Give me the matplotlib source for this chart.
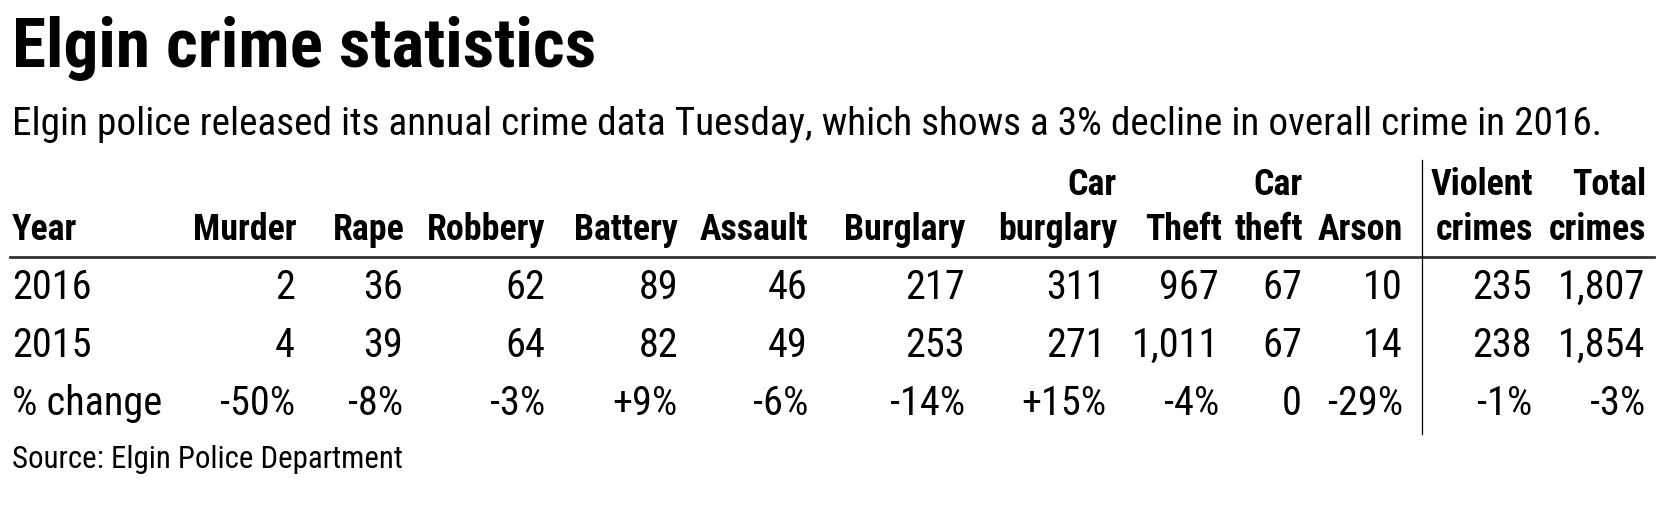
import matplotlib
matplotlib.use("Agg")
import matplotlib.pyplot as plt
from matplotlib import font_manager as fm

# table data
years = ["2016", "2015"]
head_top = ["", "", "", "", "", "", "Car", "", "Car", "", "Violent", "Total"]
head_bot = ["Murder", "Rape", "Robbery", "Battery", "Assault", "Burglary",
            "burglary", "Theft", "theft", "Arson", "crimes", "crimes"]
v2016 = [2, 36, 62, 89, 46, 217, 311, 967, 67, 10, 235, 1807]
v2015 = [4, 39, 64, 82, 49, 253, 271, 1011, 67, 14, 238, 1854]
pct = ["-50%", "-8%", "-3%", "+9%", "-6%", "-14%", "+15%", "-4%", "0", "-29%", "-1%", "-3%"]

title = "Elgin crime statistics"
subtitle = ("Elgin police released its annual crime data Tuesday, "
            "which shows a 3% decline in overall crime in 2016.")
source = "Source: Elgin Police Department"

# layout (pixels from top-left)
W, H = 1661, 519
head_x = [297, 405, 545, 678, 808, 965, 1117, 1222, 1303, 1403, 1533, 1646]
data_x = [295, 403, 545, 678, 808, 965, 1106, 1219, 1302, 1403, 1532, 1645]
row_y = [299, 357, 415]


def pick(names):
    for n in names:
        try:
            fm.findfont(fm.FontProperties(family=n), fallback_to_default=False)
            return n
        except ValueError:
            pass
    return "Liberation Sans"


narrow = pick(["Liberation Sans Narrow", "DejaVu Sans Condensed",
               "Roboto Condensed", "Open Sans Condensed", "Liberation Sans"])

fig = plt.figure(figsize=(W / 100, H / 100), dpi=100)
fig.patch.set_facecolor("white")
renderer = fig.canvas.get_renderer()


def px(x, y):
    return x / W, 1 - y / H


def put(x, y, s, size, weight="normal", ha="left"):
    return fig.text(*px(x, y), s, fontsize=size, fontweight=weight, ha=ha,
                    va="baseline", family=narrow, color="black")


def fit_size(s, width, weight="normal"):
    t = put(0, 0, s, 20, weight)
    w = t.get_window_extent(renderer).width
    t.remove()
    return 20 * width / w


title_fs = fit_size(title, 582, "heavy")
sub_fs = fit_size(subtitle, 1589)
head_fs = fit_size("Robbery", 118, "bold")
data_fs = fit_size("% change", 150)
src_fs = fit_size(source, 390)

put(12, 67, title, title_fs, "heavy")
put(12, 135, subtitle, sub_fs)

put(12, 240, "Year", head_fs, "bold")
for i in range(len(head_bot)):
    if head_top[i]:
        put(head_x[i], 195, head_top[i], head_fs, "bold", "right")
    put(head_x[i], 240, head_bot[i], head_fs, "bold", "right")

rows = [v2016, v2015]
for r, vals in enumerate(rows):
    put(12, row_y[r], years[r], data_fs)
    for i, v in enumerate(vals):
        put(data_x[i], row_y[r], f"{v:,}", data_fs, ha="right")
put(12, row_y[2], "% change", data_fs)
for i, p in enumerate(pct):
    put(data_x[i], row_y[2], p, data_fs, ha="right")

put(12, 468, source, src_fs)

# rules
fig.add_artist(plt.Line2D([10 / W, 1654 / W], [1 - 257 / H] * 2,
                          color="#333333", lw=2.0))
fig.add_artist(plt.Line2D([1422 / W] * 2, [1 - 160 / H, 1 - 434 / H],
                          color="black", lw=0.9))

fig.savefig("out.png", dpi=100, facecolor="white")
